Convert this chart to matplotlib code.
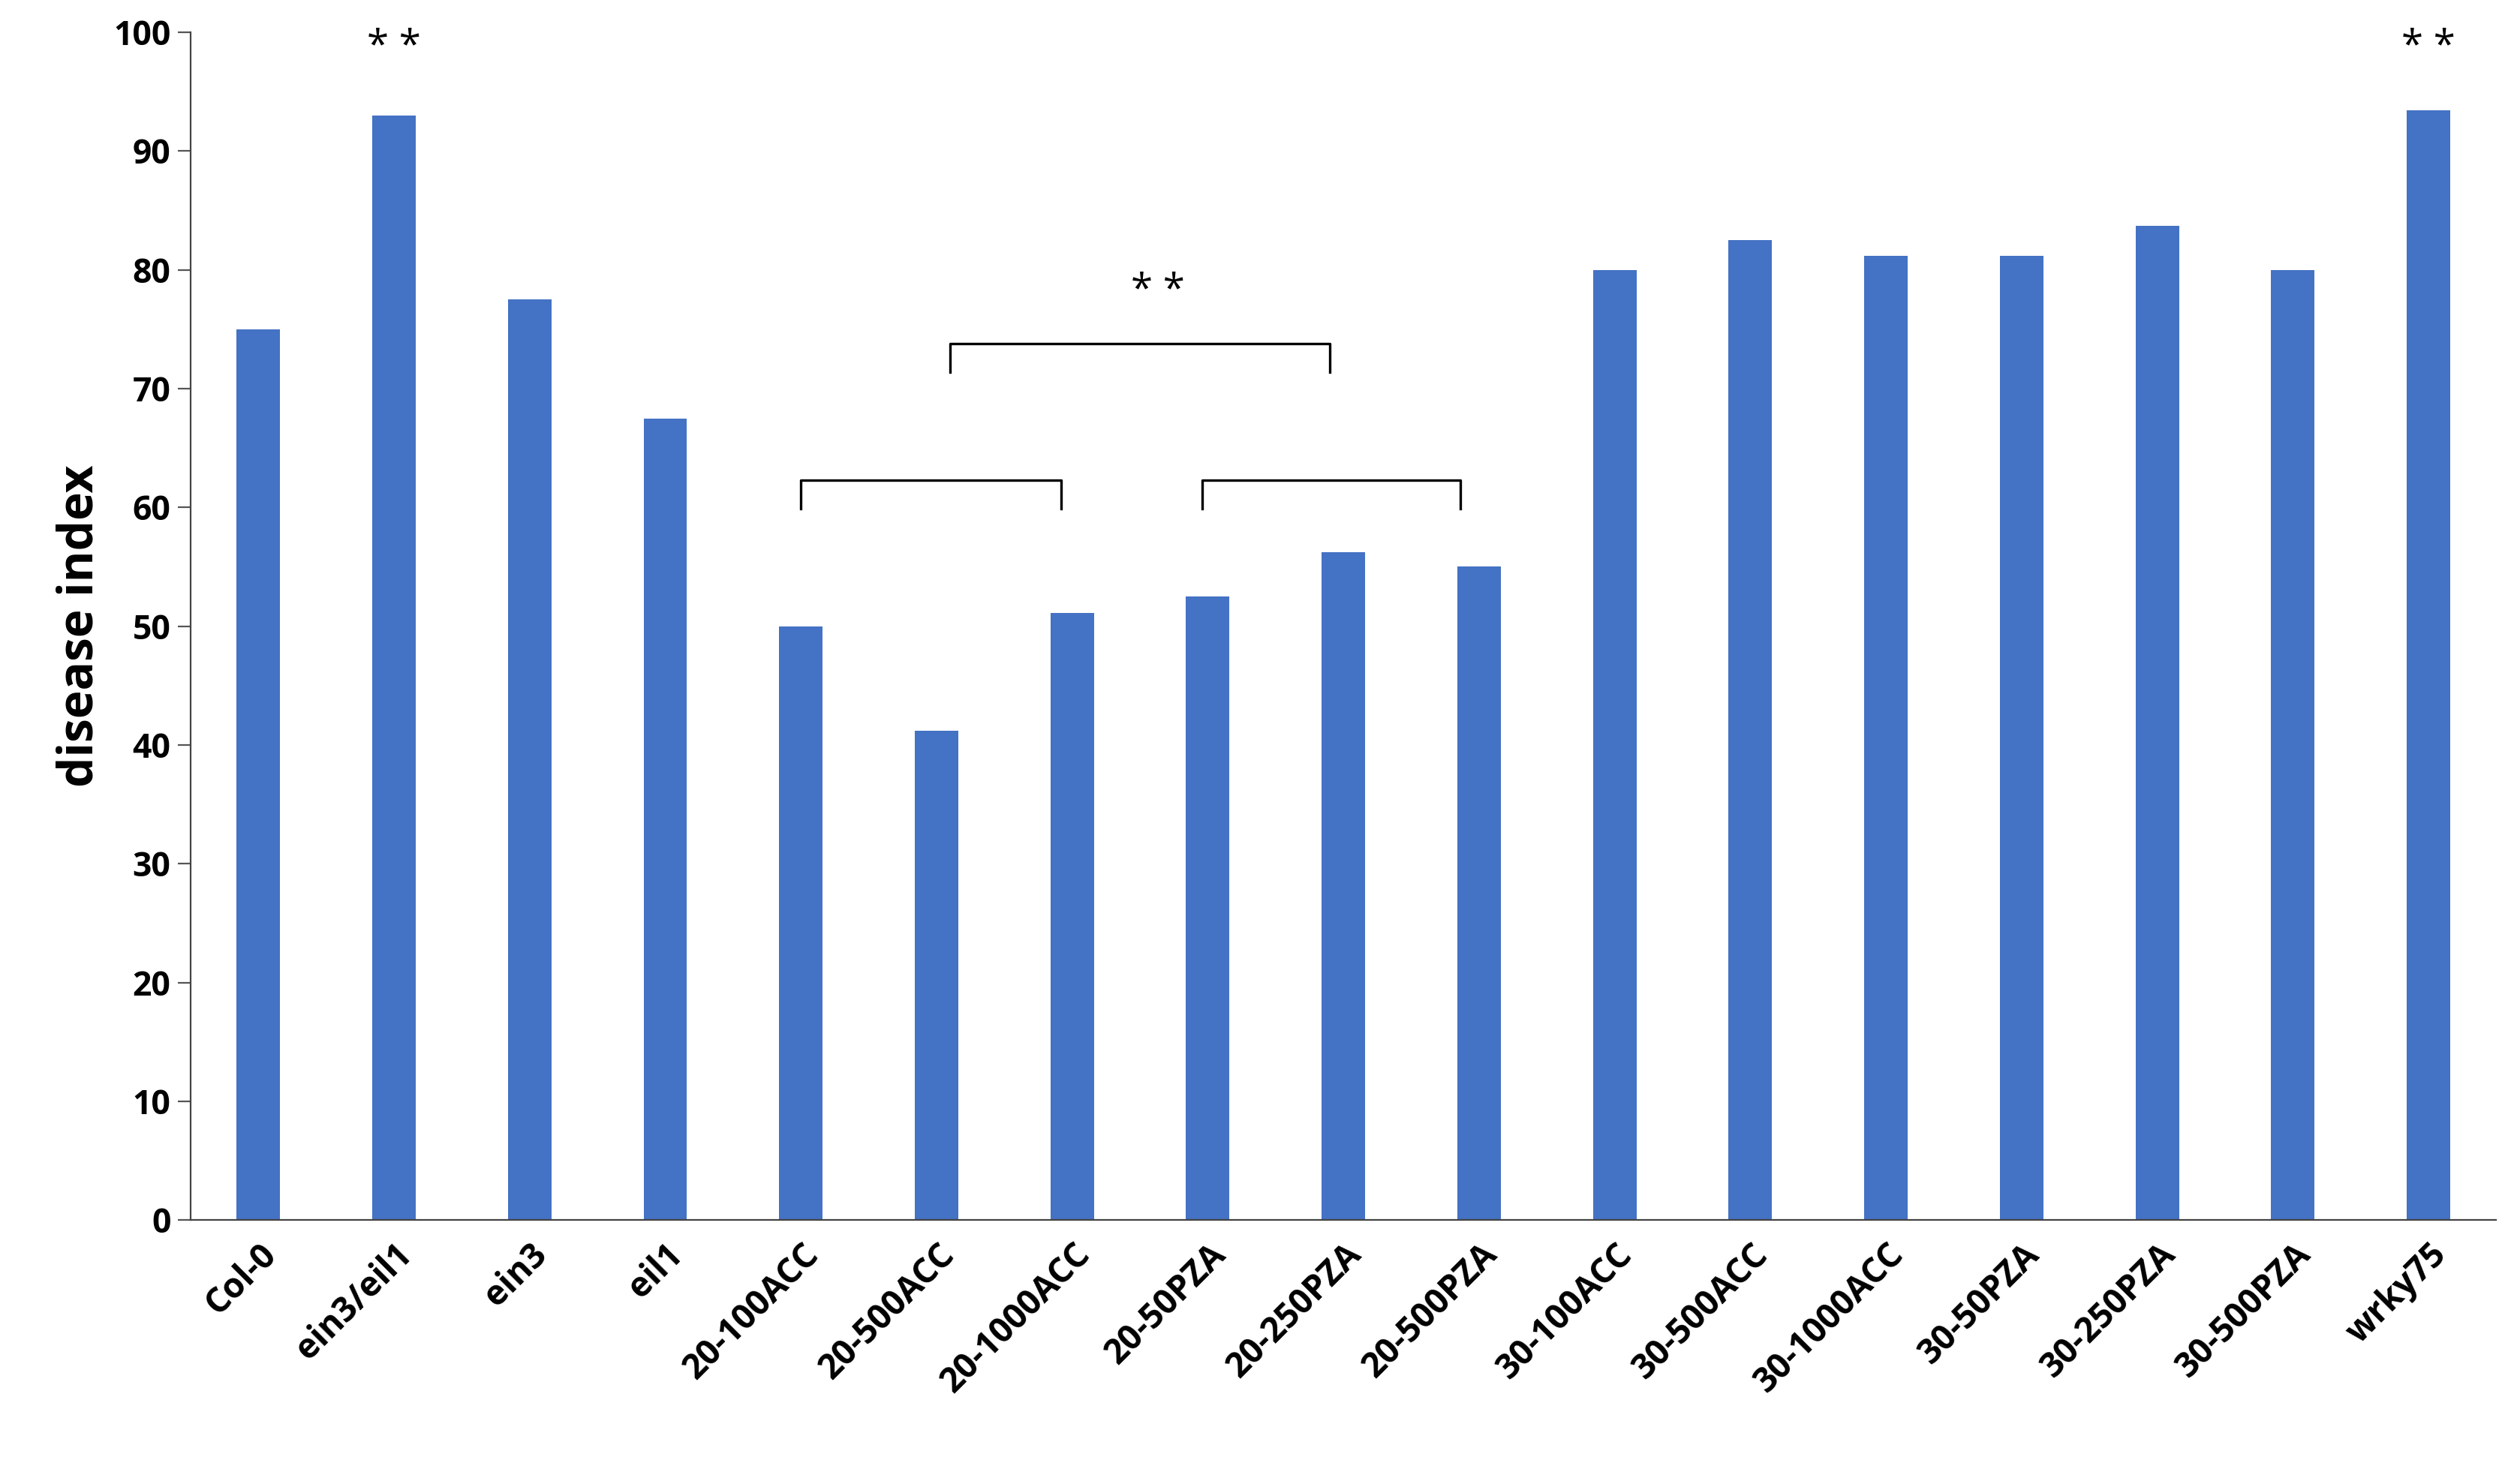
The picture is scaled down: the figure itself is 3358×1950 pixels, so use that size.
import matplotlib
matplotlib.use("Agg")
import matplotlib.pyplot as plt
import numpy as np

categories = ["Col-0", "ein3/eil1", "ein3", "eil1", "20-100ACC", "20-500ACC", "20-1000ACC",
              "20-50PZA", "20-250PZA", "20-500PZA", "30-100ACC", "30-500ACC", "30-1000ACC",
              "30-50PZA", "30-250PZA", "30-500PZA", "wrky75"]
values = [75, 93, 77.5, 67.5, 50, 41.2, 51.1, 52.5, 56.2, 55, 80, 82.5, 81.2, 81.2, 83.7, 80, 93.4]
y_ticks = [0, 10, 20, 30, 40, 50, 60, 70, 80, 90, 100]

plt.rcParams['font.family'] = ['Open Sans', 'DejaVu Sans']
fig = plt.figure(figsize=(16.79, 9.75), dpi=200)
ax = fig.add_axes([0.0756, 0.166, 0.915, 0.812])
x = np.arange(len(categories))
ax.bar(x, values, width=0.32, color="#4472C4")
ax.set_xlim(-0.5, len(categories) - 0.5)
ax.set_ylim(0, 100)
ax.set_yticks(y_ticks)
ax.set_yticklabels([str(t) for t in y_ticks], fontsize=16, fontweight='bold')
ax.set_xticks(x)
ax.set_xticklabels(categories, rotation=45, ha='right', rotation_mode='anchor',
                   fontsize=16.5, fontweight='bold')
ax.tick_params(axis='x', length=0, pad=8)
ax.tick_params(axis='y', length=6, color='#555555')
for s in ['top', 'right']:
    ax.spines[s].set_visible(False)
for s in ['left', 'bottom']:
    ax.spines[s].set_color('#444444')
ax.set_ylabel("disease index", fontsize=23, fontweight='bold', labelpad=4)

def bracket(x0, x1, y, leg):
    ax.plot([x0, x0, x1, x1], [y - leg, y, y, y - leg], color='black', lw=1.2)

bracket(4.0, 5.92, 62.3, 2.4)
bracket(6.96, 8.86, 62.3, 2.4)
bracket(5.1, 7.9, 73.8, 2.4)
ax.text(6.63, 76.5, "* *", ha='center', va='bottom', fontsize=19)
ax.text(1, 97, "* *", ha='center', va='bottom', fontsize=19)
ax.text(16, 97, "* *", ha='center', va='bottom', fontsize=19)

fig.savefig("out.png", dpi=200)
